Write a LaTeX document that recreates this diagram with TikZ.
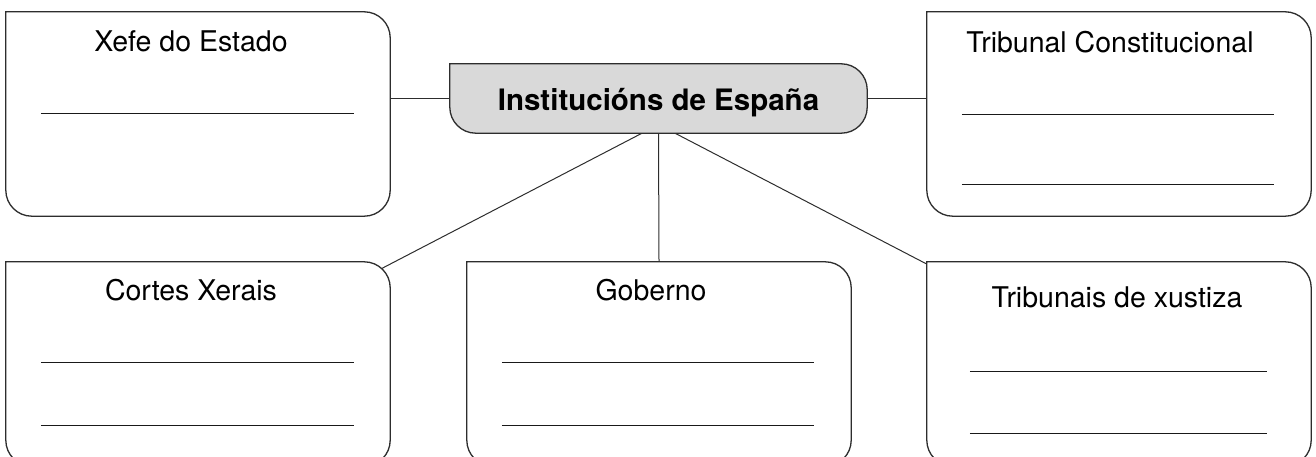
\documentclass[tikz,border=0pt]{standalone}
\usepackage{fontspec}
\setmainfont{TeX Gyre Heros}
\usetikzlibrary{backgrounds}
\definecolor{edgegray}{RGB}{45,45,45}
\definecolor{hubgray}{RGB}{217,217,217}

% outline with a square top-left corner, the other three rounded
\newcommand{\cardoutline}[2][white]{%
  \draw[card_edge, fill=#1] (#2.north west) -- (#2.north east) -- (#2.south east)
    -- (#2.south west) -- (#2.north west);}

\begin{document}
\begin{tikzpicture}[x=1pt,y=1pt]
	\tikzset{
		card/.style={%
             shape=rectangle,
             inner sep=0pt,
             minimum width=384pt,
             minimum height=204pt},
		hub/.style={%
             shape=rectangle,
             inner sep=0pt,
             minimum width=417pt,
             minimum height=69pt,
             text height=28pt,
             text depth=3pt,
             font=\fontsize{29.5}{34}\selectfont\bfseries},
		card_edge/.style={draw=edgegray, line width=1.3pt, rounded corners=26pt, line cap=rect},
		title/.style={font=\fontsize{28.5}{33}\selectfont, inner sep=0pt, anchor=base}
       }

       \tikzstyle{link_style} = [draw=edgegray, line width=1pt]
       \tikzstyle{blank_style} = [draw=black!90, line width=1.2pt]

	  \useasboundingbox (0,0) rectangle (1316,-457);

	  \node[hub] (espana) at (658.5,-98.5) {Institucións de España};
	  \node[card] (xefe) at (198,-114) {};
	  \node[card] (tc) at (1119,-114) {};
	  \node[card] (cortes) at (198,-364) {};
	  \node[card] (goberno) at (659,-364) {};
	  \node[card] (tribunais) at (1119,-364) {};

	  % connectors and the grey box go behind
	  \begin{pgfonlayer}{background}
	  \draw[link_style] (espana.west) -- (espana.west -| xefe.east);
	  \draw[link_style] (espana.east) -- (espana.east -| tc.west);
	  \draw[link_style] (espana.south) -- (goberno.north);
	  \draw[link_style] ([xshift=-16.5pt]espana.south) -- (cortes.center);
	  \draw[link_style] ([xshift=16.5pt]espana.south) -- (tribunais.center);
	  \cardoutline[hubgray]{espana}
	  \end{pgfonlayer}

	  \cardoutline{xefe}
	  \cardoutline{tc}
	  \cardoutline{cortes}
	  \cardoutline{goberno}
	  \cardoutline{tribunais}

	  \node[title] (xefe_t) at ([xshift=-7pt,yshift=-40pt]xefe.north) {Xefe do Estado};
	  \node[title] (tc_t) at ([xshift=-9pt,yshift=-41pt]tc.north) {Tribunal Constitucional};
	  \node[title] (cortes_t) at ([xshift=-7pt,yshift=-39pt]cortes.north) {Cortes Xerais};
	  \node[title] (goberno_t) at ([xshift=-8pt,yshift=-39pt]goberno.north) {Goberno};
	  \node[title] (tribunais_t) at ([xshift=-2pt,yshift=-46pt]tribunais.north) {Tribunais de xustiza};

	  % blank lines to write on
	  \draw[blank_style] ([xshift=35pt,yshift=-102pt]xefe.north west) -- ++(313,0);
	  \draw[blank_style] ([xshift=35pt,yshift=-103pt]tc.north west) -- ++(312,0);
	  \draw[blank_style] ([xshift=35pt,yshift=-173pt]tc.north west) -- ++(312,0);
	  \draw[blank_style] ([xshift=35pt,yshift=-101pt]cortes.north west) -- ++(313,0);
	  \draw[blank_style] ([xshift=35pt,yshift=-164pt]cortes.north west) -- ++(313,0);
	  \draw[blank_style] ([xshift=35pt,yshift=-101pt]goberno.north west) -- ++(312,0);
	  \draw[blank_style] ([xshift=35pt,yshift=-164pt]goberno.north west) -- ++(312,0);
	  \draw[blank_style] ([xshift=43pt,yshift=-110pt]tribunais.north west) -- ++(297,0);
	  \draw[blank_style] ([xshift=43pt,yshift=-172pt]tribunais.north west) -- ++(297,0);

\end{tikzpicture}
\end{document}
